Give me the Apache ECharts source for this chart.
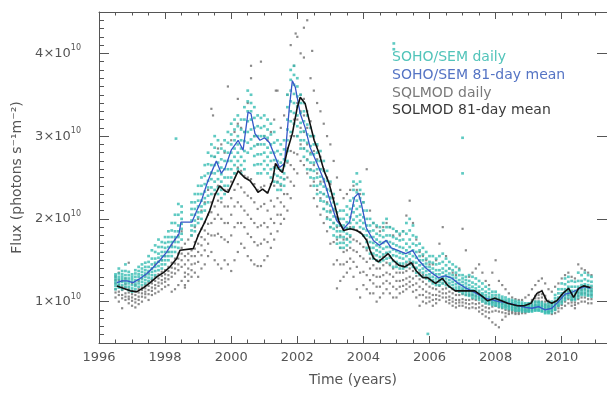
<!DOCTYPE html>
<html lang="en">
<head>
<meta charset="UTF-8">
<script src="https://cdn.jsdelivr.net/npm/echarts@6/dist/echarts.min.js"></script>
<style>
    html, body { margin: 0; padding: 0; background: #fff; }
    #chart { width: 607px; height: 393px; }
</style>
<title>flux</title>
</head>
<body>
<div id="chart"></div>
<script>
// values are in units of 1e10 photons s^-1 m^-2, x in years
// daily rows: [year, daily values read at that time ...]
var solmodDaily = [
    [1996.5,1.05,1.11,1.15,1.22,1.26,1.30],[1996.6,1.00,1.08,1.12,1.20,1.26,1.35],[1996.7,0.92,1.04,1.08,1.14,1.18,1.25],
    [1996.8,1.02,1.06,1.10,1.17,1.21,1.28],[1996.9,0.98,1.03,1.06,1.11,1.15,1.47],[1997.0,0.95,1.01,1.05,1.09,1.13,1.22],
    [1997.1,0.93,0.99,1.03,1.08,1.12,1.20],[1997.2,0.97,1.02,1.06,1.11,1.15,1.25],[1997.3,1.00,1.06,1.10,1.14,1.17,1.28],
    [1997.4,1.05,1.09,1.12,1.16,1.20,1.32],[1997.5,1.02,1.09,1.14,1.19,1.23,1.35],[1997.6,1.08,1.13,1.17,1.22,1.26,1.40],
    [1997.7,1.10,1.16,1.20,1.25,1.30,1.45],[1997.8,1.12,1.19,1.23,1.28,1.33,1.48],[1997.9,1.15,1.22,1.26,1.31,1.36,1.50],
    [1998.0,1.18,1.24,1.28,1.33,1.38,1.55],[1998.1,1.20,1.27,1.32,1.37,1.42,1.60],[1998.2,1.12,1.30,1.35,1.41,1.47,1.68],
    [1998.3,1.15,1.34,1.40,1.46,1.52,1.75],[1998.4,1.20,1.38,1.45,1.52,1.58,1.80],[1998.5,1.25,1.42,1.50,1.58,1.65,1.85],
    [1998.6,1.20,1.30,1.35,1.45,1.55,1.70],[1998.7,1.25,1.33,1.40,1.50,1.58,1.75],[1998.8,1.30,1.38,1.45,1.55,1.62,1.80],
    [1998.9,1.35,1.46,1.55,1.64,1.72,1.90],[1999.0,1.30,1.48,1.60,1.70,1.80,2.00],[1999.1,1.40,1.56,1.68,1.78,1.88,2.10],
    [1999.2,1.45,1.62,1.75,1.86,1.96,2.20],[1999.3,1.55,1.70,1.82,1.94,2.05,2.35],[1999.4,1.60,1.80,1.95,2.08,2.20,2.55],
    [1999.5,1.50,1.80,2.00,2.15,2.30,2.75],[1999.6,1.45,1.82,2.05,2.22,2.40,2.85],[1999.7,1.40,1.78,2.00,2.20,2.38,2.90],
    [1999.8,1.50,1.75,1.95,2.15,2.35,2.80],[1999.9,1.45,1.72,1.95,2.15,2.35,3.60],[2000.0,1.37,1.80,2.05,2.25,2.45,2.95],
    [2000.1,1.50,1.90,2.15,2.35,2.55,3.05],[2000.2,1.60,1.95,2.20,2.42,2.62,3.15],[2000.3,1.70,1.95,2.15,2.38,2.58,3.10],
    [2000.4,1.65,1.90,2.10,2.32,2.52,3.05],[2000.5,1.55,1.82,2.05,2.28,2.50,3.40],[2000.6,1.50,1.78,2.00,2.25,2.48,3.70],
    [2000.7,1.45,1.72,1.95,2.20,2.42,3.00],[2000.8,1.43,1.68,1.90,2.12,2.35,2.90],[2000.9,1.43,1.70,1.92,2.15,2.38,3.90],
    [2001.0,1.50,1.75,1.95,2.18,2.40,3.00],[2001.1,1.55,1.72,1.90,2.10,2.32,2.95],[2001.2,1.65,1.82,2.00,2.22,2.42,3.05],
    [2001.3,1.75,1.95,2.15,2.40,2.62,3.20],[2001.4,1.85,2.05,2.25,2.45,2.65,3.55],[2001.5,1.94,2.05,2.20,2.40,2.58,3.10],
    [2001.6,2.00,2.15,2.30,2.48,2.65,3.25],[2001.7,2.10,2.30,2.50,2.68,2.85,3.50],[2001.8,2.25,2.45,2.65,2.82,3.00,4.10],
    [2001.9,2.40,2.60,2.80,3.00,3.20,3.85],[2002.0,2.55,2.78,3.00,3.20,3.40,4.20],[2002.1,2.70,2.90,3.10,3.30,3.50,4.00],
    [2002.2,2.65,2.85,3.05,3.25,3.45,3.95],[2002.3,2.55,2.72,2.90,3.10,3.30,4.40],[2002.4,2.40,2.60,2.80,3.00,3.18,3.70],
    [2002.5,2.25,2.45,2.65,2.82,3.00,3.55],[2002.6,2.15,2.35,2.55,2.72,2.88,3.40],[2002.7,2.05,2.25,2.45,2.60,2.75,3.30],
    [2002.8,1.95,2.12,2.30,2.45,2.60,3.15],[2002.9,1.85,2.02,2.20,2.35,2.50,3.00],[2003.0,1.70,1.90,2.10,2.26,2.42,2.90],
    [2003.1,1.45,1.72,1.95,2.10,2.25,2.70],[2003.2,1.16,1.50,1.75,1.90,2.02,2.50],[2003.3,1.25,1.45,1.65,1.80,1.92,2.35],
    [2003.4,1.30,1.45,1.60,1.75,1.88,2.25],[2003.5,1.35,1.48,1.62,1.76,1.88,2.30],[2003.6,1.40,1.52,1.65,1.78,1.90,2.35],
    [2003.7,1.30,1.48,1.62,1.75,1.88,2.40],[2003.8,1.15,1.42,1.60,1.73,1.86,2.35],[2003.9,1.05,1.35,1.55,1.70,1.84,2.30],
    [2004.0,1.20,1.36,1.52,1.66,1.80,2.20],[2004.1,1.15,1.32,1.48,1.62,1.75,2.60],[2004.2,1.10,1.26,1.40,1.52,1.65,2.10],
    [2004.3,1.10,1.22,1.32,1.44,1.55,1.95],[2004.4,1.00,1.18,1.30,1.40,1.50,1.90],[2004.5,1.05,1.18,1.30,1.40,1.50,1.85],
    [2004.6,1.10,1.22,1.32,1.44,1.54,1.90],[2004.7,1.15,1.25,1.35,1.47,1.58,1.95],[2004.8,1.10,1.22,1.33,1.44,1.55,1.90],
    [2004.9,1.05,1.18,1.30,1.40,1.50,1.80],[2005.0,1.05,1.15,1.25,1.35,1.45,1.85],[2005.1,1.10,1.18,1.25,1.35,1.44,1.80],
    [2005.2,1.12,1.19,1.26,1.35,1.43,1.85],[2005.3,1.15,1.21,1.28,1.37,1.45,2.04],[2005.4,1.18,1.24,1.30,1.40,1.48,2.22],
    [2005.5,1.12,1.20,1.28,1.37,1.46,1.95],[2005.6,1.05,1.14,1.22,1.31,1.40,1.75],[2005.7,0.95,1.08,1.18,1.27,1.35,1.60],
    [2005.8,1.00,1.08,1.15,1.24,1.32,1.55],[2005.9,0.98,1.05,1.12,1.21,1.29,1.50],[2006.0,1.00,1.05,1.10,1.18,1.26,1.45],
    [2006.1,0.95,1.02,1.08,1.16,1.24,1.45],[2006.2,0.98,1.03,1.08,1.15,1.22,1.50],[2006.3,1.02,1.07,1.12,1.19,1.26,1.70],
    [2006.4,1.05,1.10,1.15,1.22,1.28,1.90],[2006.5,1.00,1.05,1.10,1.16,1.22,1.55],[2006.6,0.98,1.02,1.06,1.12,1.18,1.40],
    [2006.7,0.95,1.00,1.04,1.10,1.15,1.35],[2006.8,0.93,0.98,1.02,1.08,1.13,1.32],[2006.9,0.95,0.99,1.02,1.08,1.13,1.40],
    [2007.0,0.95,0.99,1.03,1.09,1.14,1.88],[2007.1,0.93,0.98,1.02,1.08,1.13,1.62],[2007.2,0.92,0.97,1.02,1.08,1.13,1.30],
    [2007.3,0.93,0.98,1.03,1.08,1.13,1.35],[2007.4,0.92,0.97,1.02,1.07,1.12,1.40],[2007.5,0.88,0.93,0.98,1.04,1.09,1.45],
    [2007.6,0.85,0.90,0.95,1.01,1.06,1.35],[2007.7,0.82,0.88,0.93,0.98,1.03,1.25],[2007.8,0.80,0.87,0.92,0.97,1.01,1.20],
    [2007.9,0.75,0.88,0.94,0.99,1.03,1.35],[2008.0,0.72,0.89,0.95,1.00,1.05,1.50],[2008.1,0.69,0.88,0.93,0.98,1.03,1.25],
    [2008.2,0.78,0.87,0.92,0.97,1.01,1.20],[2008.3,0.82,0.86,0.90,0.95,0.99,1.15],[2008.4,0.85,0.88,0.90,0.94,0.97,1.10],
    [2008.5,0.86,0.88,0.90,0.93,0.96,1.05],[2008.6,0.85,0.87,0.89,0.92,0.95,1.03],[2008.7,0.85,0.87,0.89,0.92,0.95,1.02],
    [2008.8,0.86,0.88,0.90,0.93,0.95,1.02],[2008.9,0.86,0.88,0.90,0.93,0.96,1.05],[2009.0,0.88,0.90,0.92,0.95,0.98,1.08],
    [2009.1,0.90,0.93,0.96,0.99,1.02,1.15],[2009.2,0.92,0.96,1.00,1.04,1.07,1.20],[2009.3,0.95,1.00,1.04,1.08,1.11,1.25],
    [2009.4,0.95,1.00,1.05,1.09,1.13,1.28],[2009.5,0.92,0.96,1.00,1.04,1.07,1.22],[2009.6,0.88,0.92,0.95,0.98,1.01,1.15],
    [2009.7,0.85,0.89,0.92,0.95,0.98,1.12],[2009.8,0.86,0.90,0.93,0.97,1.00,1.18],[2009.9,0.88,0.92,0.95,0.99,1.02,1.22],
    [2010.0,0.92,0.96,1.00,1.04,1.08,1.28],[2010.1,0.95,1.00,1.04,1.08,1.12,1.32],[2010.2,0.98,1.03,1.08,1.12,1.16,1.35],
    [2010.3,0.95,0.99,1.02,1.06,1.10,1.30],[2010.4,0.92,0.96,0.99,1.03,1.06,1.28],[2010.5,0.98,1.03,1.07,1.11,1.15,1.45],
    [2010.6,1.00,1.05,1.10,1.14,1.18,1.40],[2010.7,1.00,1.05,1.10,1.15,1.19,1.38],[2010.8,0.98,1.03,1.08,1.13,1.17,1.35],
    [2010.9,0.98,1.03,1.08,1.13,1.17,1.32]
];
var solmodOutliers = [
    [1999.4,3.33],[1999.45,3.25],[2000.2,3.45],[2000.6,3.85],[2001.35,3.55],
    [2001.95,4.24],[2002.2,4.31],[2002.45,4.03],[1998.6,1.17]
];

var semDaily = [
    [1996.5,1.15,1.19,1.22,1.25,1.28,1.31,1.33],[1996.6,1.17,1.20,1.23,1.27,1.30,1.34,1.40],[1996.7,1.15,1.20,1.24,1.27,1.30,1.33,1.37],
    [1996.8,1.18,1.22,1.25,1.28,1.32,1.37,1.45],[1996.9,1.14,1.18,1.22,1.25,1.28,1.32,1.36],[1997.0,1.12,1.16,1.20,1.24,1.27,1.30,1.33],
    [1997.1,1.15,1.19,1.22,1.26,1.30,1.34,1.38],[1997.2,1.18,1.22,1.26,1.30,1.33,1.37,1.42],[1997.3,1.20,1.24,1.28,1.32,1.36,1.40,1.45],
    [1997.4,1.22,1.26,1.30,1.34,1.38,1.42,1.47],[1997.5,1.25,1.29,1.33,1.37,1.42,1.48,1.55],[1997.6,1.28,1.32,1.36,1.40,1.45,1.52,1.62],
    [1997.7,1.32,1.37,1.42,1.47,1.52,1.60,1.68],[1997.8,1.38,1.43,1.48,1.53,1.58,1.66,1.75],[1997.9,1.40,1.45,1.50,1.55,1.60,1.66,1.72],
    [1998.0,1.45,1.50,1.55,1.60,1.65,1.71,1.78],[1998.1,1.50,1.55,1.60,1.66,1.72,1.78,1.85],[1998.2,1.55,1.60,1.66,1.72,1.78,1.86,1.95],
    [1998.3,1.60,1.66,1.72,1.78,1.85,1.95,2.05],[1998.4,1.65,1.72,1.78,1.85,1.92,2.05,2.18],[1998.5,1.75,1.82,1.88,1.94,2.00,2.08,2.15],
    [1998.8,1.80,1.86,1.92,1.98,2.05,2.12,2.20],[1998.9,1.85,1.92,1.98,2.05,2.12,2.20,2.30],[1999.0,1.95,2.02,2.08,2.15,2.22,2.30,2.40],
    [1999.1,2.00,2.08,2.15,2.22,2.30,2.40,2.50],[1999.2,2.10,2.18,2.25,2.33,2.42,2.52,2.65],[1999.3,2.20,2.28,2.38,2.46,2.55,2.66,2.80],
    [1999.4,2.30,2.38,2.48,2.56,2.65,2.76,2.90],[1999.5,2.35,2.45,2.55,2.65,2.75,2.86,3.00],[1999.6,2.30,2.38,2.48,2.58,2.68,2.80,2.95],
    [1999.7,2.25,2.35,2.45,2.54,2.62,2.72,2.85],[1999.8,2.30,2.40,2.50,2.60,2.70,2.82,2.95],[1999.9,2.40,2.50,2.60,2.70,2.80,2.92,3.05],
    [2000.0,2.50,2.60,2.70,2.80,2.90,3.02,3.15],[2000.1,2.55,2.65,2.75,2.85,2.95,3.08,3.20],[2000.2,2.60,2.70,2.80,2.90,3.00,3.12,3.25],
    [2000.3,2.55,2.65,2.75,2.85,2.95,3.08,3.20],[2000.4,2.60,2.70,2.82,2.94,3.05,3.20,3.35],[2000.5,2.80,2.92,3.05,3.18,3.30,3.42,3.55],
    [2000.6,2.85,2.96,3.08,3.20,3.30,3.40,3.50],[2000.7,2.65,2.76,2.88,3.00,3.10,3.22,3.35],[2000.8,2.55,2.66,2.78,2.90,3.00,3.12,3.25],
    [2000.9,2.55,2.66,2.78,2.90,3.00,3.10,3.22],[2001.0,2.60,2.70,2.80,2.90,3.00,3.12,3.25],[2001.1,2.55,2.65,2.75,2.86,2.98,3.08,3.20],
    [2001.2,2.50,2.60,2.70,2.80,2.90,3.02,3.15],[2001.3,2.45,2.54,2.62,2.71,2.80,2.92,3.05],[2001.4,2.35,2.44,2.52,2.61,2.70,2.82,2.95],
    [2001.5,2.35,2.42,2.50,2.59,2.68,2.78,2.90],[2001.6,2.40,2.48,2.55,2.64,2.72,2.84,2.95],[2001.7,2.70,2.82,2.95,3.08,3.20,3.35,3.50],
    [2001.8,3.05,3.18,3.30,3.42,3.55,3.68,3.80],[2001.9,3.15,3.28,3.40,3.51,3.62,3.74,3.85],[2002.0,3.00,3.12,3.25,3.36,3.48,3.60,3.70],
    [2002.1,2.85,2.95,3.05,3.16,3.28,3.40,3.50],[2002.2,2.75,2.85,2.95,3.06,3.18,3.30,3.40],[2002.3,2.60,2.71,2.82,2.92,3.02,3.14,3.25],
    [2002.4,2.50,2.59,2.68,2.78,2.88,3.00,3.10],[2002.5,2.40,2.49,2.58,2.68,2.78,2.90,3.00],[2002.6,2.30,2.40,2.50,2.60,2.70,2.80,2.90],
    [2002.7,2.22,2.32,2.42,2.51,2.60,2.70,2.82],[2002.8,2.12,2.21,2.30,2.39,2.48,2.58,2.70],[2002.9,2.00,2.09,2.18,2.27,2.36,2.46,2.58],
    [2003.0,1.90,1.99,2.08,2.16,2.25,2.34,2.45],[2003.1,1.80,1.88,1.95,2.03,2.12,2.20,2.30],[2003.2,1.70,1.78,1.85,1.92,2.00,2.08,2.18],
    [2003.3,1.65,1.71,1.78,1.85,1.92,2.00,2.10],[2003.4,1.65,1.71,1.78,1.85,1.92,2.00,2.10],[2003.5,1.68,1.75,1.82,1.89,1.96,2.05,2.15],
    [2003.6,1.72,1.80,1.88,1.95,2.02,2.12,2.22],[2003.7,1.90,1.99,2.08,2.16,2.25,2.35,2.45],[2003.8,1.95,2.03,2.12,2.22,2.32,2.42,2.55],
    [2003.9,1.90,1.98,2.05,2.15,2.25,2.35,2.45],[2004.0,1.80,1.88,1.95,2.02,2.10,2.20,2.30],[2004.1,1.65,1.72,1.80,1.86,1.92,2.00,2.10],
    [2004.2,1.58,1.65,1.72,1.78,1.85,1.92,2.00],[2004.3,1.52,1.58,1.65,1.71,1.78,1.86,1.95],[2004.4,1.50,1.56,1.62,1.68,1.75,1.82,1.92],
    [2004.5,1.48,1.54,1.60,1.66,1.72,1.80,1.90],[2004.6,1.50,1.57,1.64,1.71,1.78,1.86,1.95],[2004.7,1.52,1.59,1.66,1.73,1.80,1.90,2.00],
    [2004.8,1.46,1.53,1.60,1.66,1.72,1.80,1.90],[2004.9,1.42,1.49,1.56,1.63,1.70,1.78,1.88],[2005.0,1.42,1.48,1.55,1.61,1.68,1.76,1.85],
    [2005.1,1.40,1.46,1.53,1.59,1.66,1.74,1.82],[2005.2,1.40,1.46,1.52,1.58,1.65,1.75,1.85],[2005.3,1.42,1.48,1.55,1.62,1.70,1.82,1.95],
    [2005.4,1.45,1.51,1.58,1.66,1.75,1.86,2.00],[2005.5,1.42,1.48,1.55,1.62,1.70,1.80,1.92],[2005.6,1.35,1.41,1.47,1.53,1.60,1.68,1.78],
    [2005.7,1.32,1.38,1.44,1.50,1.55,1.62,1.70],[2005.8,1.30,1.35,1.40,1.45,1.50,1.57,1.65],[2005.9,1.28,1.32,1.37,1.42,1.46,1.52,1.60],
    [2006.0,1.25,1.29,1.33,1.38,1.42,1.48,1.55],[2006.1,1.22,1.26,1.30,1.35,1.40,1.47,1.55],[2006.2,1.20,1.24,1.28,1.33,1.38,1.45,1.52],
    [2006.3,1.20,1.24,1.28,1.33,1.38,1.46,1.55],[2006.4,1.22,1.26,1.30,1.35,1.40,1.48,1.58],[2006.5,1.20,1.24,1.28,1.32,1.37,1.44,1.52],
    [2006.6,1.18,1.22,1.26,1.30,1.34,1.40,1.48],[2006.7,1.16,1.20,1.24,1.28,1.32,1.38,1.45],[2006.8,1.14,1.17,1.21,1.25,1.29,1.35,1.42],
    [2006.9,1.12,1.15,1.18,1.22,1.26,1.32,1.38],[2007.0,1.10,1.13,1.16,1.20,1.24,1.28,1.32],[2007.1,1.08,1.11,1.15,1.18,1.22,1.26,1.30],
    [2007.2,1.07,1.10,1.13,1.16,1.20,1.25,1.32],[2007.3,1.05,1.08,1.11,1.14,1.18,1.23,1.30],[2007.4,1.04,1.07,1.10,1.13,1.16,1.21,1.28],
    [2007.5,1.02,1.05,1.07,1.10,1.13,1.18,1.25],[2007.6,1.00,1.03,1.05,1.08,1.10,1.15,1.22],[2007.7,0.98,1.01,1.03,1.05,1.08,1.12,1.18],
    [2007.8,0.97,0.99,1.01,1.03,1.06,1.10,1.15],[2007.9,0.96,0.98,1.00,1.02,1.05,1.08,1.12],[2008.0,0.95,0.97,0.99,1.01,1.04,1.08,1.12],
    [2008.1,0.94,0.96,0.98,1.00,1.02,1.05,1.08],[2008.2,0.93,0.95,0.97,0.99,1.01,1.03,1.06],[2008.3,0.92,0.94,0.96,0.98,1.00,1.02,1.05],
    [2008.4,0.91,0.93,0.95,0.97,0.99,1.01,1.03],[2008.5,0.90,0.92,0.94,0.96,0.98,1.00,1.02],[2008.6,0.89,0.91,0.93,0.95,0.97,0.99,1.01],
    [2008.7,0.89,0.90,0.92,0.94,0.96,0.98,1.00],[2008.8,0.88,0.90,0.91,0.93,0.95,0.97,0.99],[2008.9,0.88,0.89,0.91,0.93,0.94,0.96,0.98],
    [2009.0,0.88,0.89,0.91,0.93,0.94,0.96,0.98],[2009.1,0.88,0.89,0.91,0.93,0.94,0.96,0.99],[2009.2,0.89,0.90,0.92,0.94,0.95,0.97,1.00],
    [2009.3,0.89,0.90,0.92,0.94,0.96,0.98,1.00],[2009.4,0.88,0.89,0.91,0.93,0.95,0.97,0.99],[2009.5,0.86,0.87,0.89,0.91,0.93,0.95,0.97],
    [2009.6,0.86,0.87,0.89,0.91,0.93,0.95,0.98],[2009.7,0.87,0.89,0.91,0.93,0.95,0.97,1.00],[2009.8,0.90,0.92,0.95,0.97,1.00,1.04,1.08],
    [2009.9,0.95,0.97,1.00,1.02,1.05,1.10,1.15],[2010.0,0.98,1.01,1.04,1.07,1.10,1.15,1.22],[2010.1,1.02,1.05,1.08,1.11,1.15,1.21,1.28],
    [2010.2,1.05,1.08,1.11,1.14,1.18,1.24,1.30],[2010.3,1.02,1.04,1.07,1.10,1.13,1.18,1.25],[2010.4,1.02,1.04,1.07,1.10,1.13,1.18,1.24],
    [2010.5,1.05,1.08,1.11,1.14,1.18,1.25,1.35],[2010.6,1.08,1.10,1.13,1.16,1.20,1.25,1.32],[2010.7,1.08,1.11,1.14,1.17,1.21,1.27,1.35],
    [2010.8,1.07,1.10,1.13,1.16,1.20,1.25,1.32],[2010.9,1.06,1.09,1.12,1.15,1.19,1.24,1.30]
];
var semOutliers = [
    [1998.33,2.97],[2004.92,4.12],[2004.92,4.05],[2007.0,2.98],[2007.0,2.55],[2005.95,0.61]
];

// 81-day running means
var semMean = [
    [1996.54,1.23],[1996.7,1.25],[1996.85,1.25],[1997.03,1.23],[1997.24,1.28],[1997.45,1.34],[1997.63,1.41],
    [1997.84,1.50],[1998.03,1.59],[1998.21,1.70],[1998.42,1.82],[1998.48,1.96],[1998.81,1.96],[1998.96,2.10],
    [1999.1,2.22],[1999.27,2.43],[1999.42,2.58],[1999.55,2.70],[1999.7,2.55],[1999.82,2.62],[2000.0,2.83],
    [2000.21,2.95],[2000.36,2.83],[2000.51,3.29],[2000.6,3.27],[2000.72,3.03],[2000.87,2.95],[2001.01,2.98],
    [2001.16,2.92],[2001.31,2.77],[2001.46,2.62],[2001.61,2.67],[2001.76,3.35],[2001.85,3.67],[2001.94,3.59],
    [2002.09,3.27],[2002.24,3.10],[2002.39,2.86],[2002.6,2.67],[2002.81,2.46],[2002.99,2.22],[2003.19,1.98],
    [2003.4,1.88],[2003.58,1.96],[2003.73,2.26],[2003.85,2.31],[2003.94,2.18],[2004.09,1.89],[2004.3,1.74],
    [2004.48,1.68],[2004.69,1.74],[2004.84,1.65],[2005.04,1.62],[2005.28,1.58],[2005.49,1.62],[2005.67,1.50],
    [2005.88,1.41],[2006.09,1.34],[2006.27,1.29],[2006.48,1.31],[2006.69,1.28],[2006.87,1.22],[2007.07,1.17],
    [2007.28,1.13],[2007.5,1.08],[2007.7,1.04],[2007.9,1.02],[2008.1,1.00],[2008.3,0.99],[2008.5,0.97],
    [2008.7,0.95],[2008.9,0.93],[2009.1,0.92],[2009.3,0.94],[2009.5,0.90],[2009.7,0.92],[2009.9,1.00],
    [2010.1,1.09],[2010.3,1.11],[2010.5,1.15],[2010.7,1.18],[2010.87,1.16]
];
var solmodMean = [
    [1996.54,1.19],[1996.75,1.16],[1996.95,1.13],[1997.15,1.12],[1997.35,1.17],[1997.55,1.23],[1997.75,1.30],
    [1997.95,1.35],[1998.15,1.42],[1998.35,1.52],[1998.45,1.62],[1998.85,1.64],[1999.0,1.80],[1999.2,1.96],
    [1999.35,2.10],[1999.5,2.28],[1999.65,2.40],[1999.8,2.34],[1999.91,2.32],[2000.21,2.58],[2000.4,2.50],
    [2000.57,2.46],[2000.72,2.38],[2000.81,2.32],[2000.95,2.36],[2001.1,2.31],[2001.25,2.46],[2001.34,2.67],
    [2001.45,2.60],[2001.55,2.56],[2001.7,2.83],[2001.85,3.03],[2002.0,3.35],[2002.09,3.47],[2002.24,3.39],
    [2002.36,3.19],[2002.51,2.95],[2002.66,2.79],[2002.81,2.58],[2002.96,2.43],[2003.1,2.22],[2003.25,1.98],
    [2003.4,1.86],[2003.6,1.88],[2003.8,1.86],[2003.95,1.82],[2004.1,1.74],[2004.2,1.62],[2004.3,1.53],
    [2004.45,1.48],[2004.6,1.53],[2004.75,1.58],[2004.9,1.50],[2005.07,1.44],[2005.25,1.42],[2005.45,1.47],
    [2005.6,1.37],[2005.8,1.29],[2005.94,1.29],[2006.18,1.22],[2006.39,1.28],[2006.57,1.19],[2006.78,1.13],
    [2007.16,1.13],[2007.37,1.13],[2007.58,1.07],[2007.76,1.01],[2007.97,1.04],[2008.18,1.01],[2008.36,0.98],
    [2008.66,0.95],[2008.87,0.95],[2009.07,0.98],[2009.25,1.10],[2009.4,1.13],[2009.55,1.01],[2009.7,0.98],
    [2009.85,1.01],[2010.06,1.11],[2010.21,1.16],[2010.36,1.05],[2010.51,1.16],[2010.66,1.19],[2010.87,1.17]
];

var yMajor = [1, 2, 3, 4];
var xTicks = [1996, 1998, 2000, 2002, 2004, 2006, 2008, 2010];

function toPoints(rows, extra) {
    var pts = [];
    rows.forEach(function (r) {
        for (var i = 1; i < r.length; i++) pts.push([r[0], r[i]]);
    });
    return pts.concat(extra);
}

var font = 'DejaVu Sans';
var axisColor = '#555';
var X_MIN = 1996, X_MAX = 2011.37, Y_MIN = 0.5, Y_MAX = 4.5;

function xAx(pos, major) {
    return {
        type: 'value', position: pos, min: X_MIN, max: X_MAX,
        interval: major ? 2 : 0.5,
        axisLine: {show: major, onZero: false, lineStyle: {color: axisColor, width: 1}},
        axisTick: {show: true, inside: true, length: major ? 7 : 3.5, lineStyle: {color: axisColor}},
        axisLabel: {show: false},
        splitLine: {show: false}
    };
}

var chart = echarts.init(document.getElementById('chart'), null, {renderer: 'canvas'});
var bottomX = xAx('bottom', true);
bottomX.axisLabel = {
    show: true, color: axisColor, fontSize: 13, fontFamily: font, margin: 8,
    customValues: xTicks,
    formatter: function (v) { return String(v); }
};
bottomX.name = 'Time (years)';
bottomX.nameLocation = 'middle';
bottomX.nameGap = 30;
bottomX.nameTextStyle = {color: axisColor, fontSize: 14, fontFamily: font};

chart.setOption({
    animation: false,
    backgroundColor: '#fff',
    grid: {left: 99, right: -6, top: 12, bottom: 50, containLabel: false},
    xAxis: [bottomX, xAx('bottom', false), xAx('top', true), xAx('top', false)],
    yAxis: [
        {
            type: 'value', position: 'left', min: Y_MIN, max: Y_MAX,
            axisLine: {show: true, onZero: false, lineStyle: {color: axisColor}},
            axisTick: {show: true, inside: true, length: 10, customValues: yMajor, lineStyle: {color: axisColor}},
            axisLabel: {
                show: true, margin: 18, customValues: yMajor,
                formatter: function (v) { return '{a|' + v + '×10}{b|10}'; },
                rich: {
                    a: {color: axisColor, fontSize: 13, fontFamily: font, lineHeight: 18},
                    b: {color: axisColor, fontSize: 8, fontFamily: font, verticalAlign: 'top', lineHeight: 10}
                }
            },
            splitLine: {show: false},
            name: 'Flux (photons s⁻¹m⁻²)',
            nameLocation: 'middle', nameGap: 72, nameRotate: 90,
            nameTextStyle: {color: axisColor, fontSize: 14, fontFamily: font}
        },
        {
            type: 'value', position: 'left', min: Y_MIN, max: Y_MAX, interval: 0.1,
            axisLine: {show: false},
            axisTick: {show: true, inside: true, length: 5, lineStyle: {color: axisColor}},
            axisLabel: {show: false}, splitLine: {show: false}
        },
        {
            type: 'value', position: 'right', min: Y_MIN, max: Y_MAX,
            axisLine: {show: true, onZero: false, lineStyle: {color: axisColor}},
            axisTick: {show: true, inside: true, length: 10, customValues: yMajor, lineStyle: {color: axisColor}},
            axisLabel: {show: false}, splitLine: {show: false}
        }
    ],
    graphic: [
        {type: 'text', left: 392, top: 50, style: {text: 'SOHO/SEM daily', fill: '#52c4ba', font: '14px "DejaVu Sans"'}},
        {type: 'text', left: 392, top: 68, style: {text: 'SOHO/SEM 81-day mean', fill: '#5574c4', font: '14px "DejaVu Sans"'}},
        {type: 'text', left: 392, top: 86, style: {text: 'SQLMOD daily', fill: '#7a7a7a', font: '14px "DejaVu Sans"'}},
        {type: 'text', left: 392, top: 103, style: {text: 'SOLMOD 81-day mean', fill: '#3a3a3a', font: '14px "DejaVu Sans"'}}
    ],
    series: [
        {
            name: 'SQLMOD daily', type: 'scatter', symbol: 'rect', symbolSize: 2.2,
            data: toPoints(solmodDaily, solmodOutliers),
            itemStyle: {color: '#6d6d6d'}
        },
        {
            name: 'SOHO/SEM daily', type: 'scatter', symbol: 'rect', symbolSize: [2.8, 2.6],
            data: toPoints(semDaily, semOutliers),
            itemStyle: {color: '#37bdb3'}
        },
        {
            name: 'SOHO/SEM 81-day mean', type: 'line', showSymbol: false,
            data: semMean,
            lineStyle: {color: '#3557c8', width: 1.3}
        },
        {
            name: 'SOLMOD 81-day mean', type: 'line', showSymbol: false,
            data: solmodMean,
            lineStyle: {color: '#111', width: 1.6}
        }
    ]
});
</script>
</body>
</html>
